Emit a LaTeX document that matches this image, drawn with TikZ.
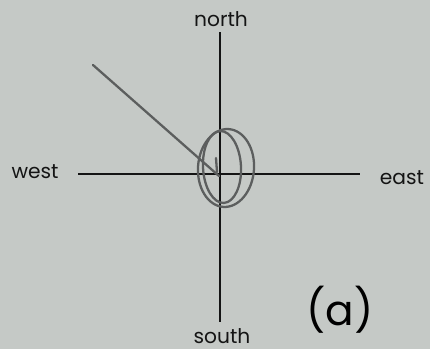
\documentclass[tikz,border=0pt]{standalone}
\usepackage{fontspec}
\setmainfont{Poppins}
\usepackage{tikz}
\usetikzlibrary{positioning, calc}
\definecolor{Paper}{RGB}{197,201,198}
\definecolor{Pencil}{RGB}{92,94,94}
\definecolor{Ink}{RGB}{20,20,20}

\begin{document}
\begin{tikzpicture}[x=0.02cm, y=-0.02cm,
    axis/.style={draw=Ink, line width=0.75pt},
    pencil/.style={draw=Pencil, line width=1.3pt, line cap=round},
    dir/.style={text=Ink, font=\fontsize{11.5}{13}\selectfont, inner sep=0pt}]
  \fill[Paper] (0,0) rectangle (430,349);
  \useasboundingbox (0,0) rectangle (430,349);
  % compass labels
  \foreach \n/\x/\y in {north/221/19, south/222/336, west/35/172, east/402/178}
    \node[dir] (\n) at (\x,\y) {\n};
  % axis ends
  \coordinate (top) at (220,32);
  \coordinate (bot) at (220,322);
  \coordinate (lft) at (78,174);
  \coordinate (rgt) at (360,174);
  \coordinate (o) at (219,176);
  \draw[axis] (top) -- (bot);
  \draw[axis] (lft) -- (rgt);
  % pencil marks
  \coordinate (tip) at (93,65);
  \draw[pencil] (tip) -- (o);
  \draw[pencil] (216,158) -- (217,172);
  \draw[pencil, rotate around={-4:(226,168)}] (226,168) ellipse (28 and 39);
  \draw[pencil, rotate around={3:(222,167)}] (222,167) ellipse (19 and 36);
  \node[text=black, font=\fontsize{24}{26}\selectfont, inner sep=0pt] (tag) at (340,310) {(a)};
\end{tikzpicture}
\end{document}
